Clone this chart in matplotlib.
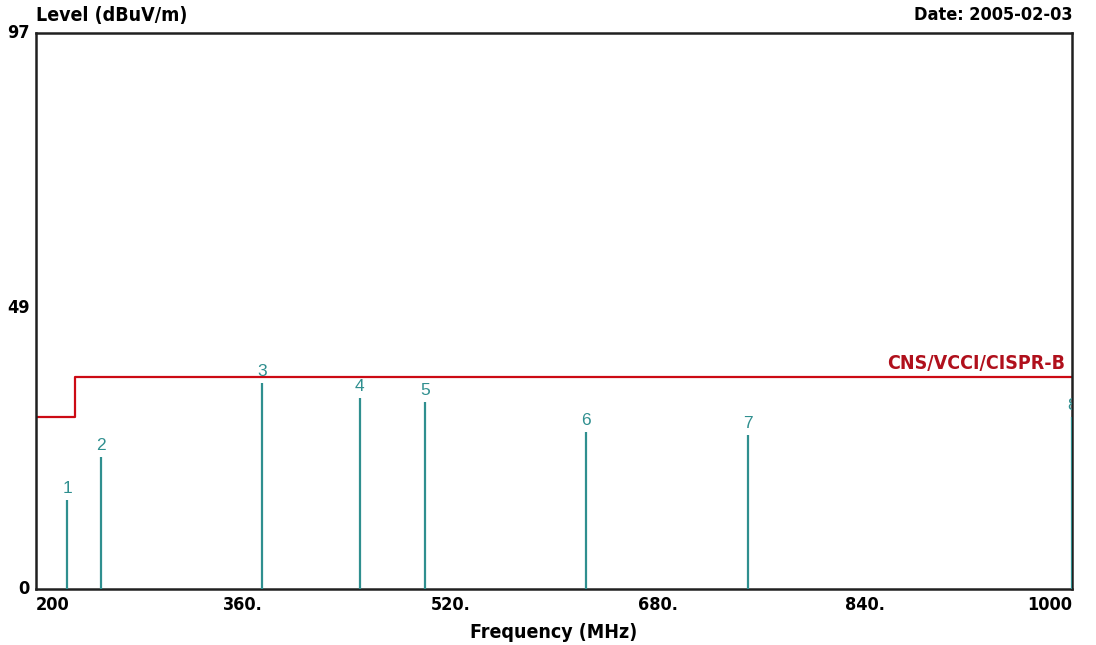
import matplotlib

matplotlib.use("Agg")

import matplotlib.pyplot as plt

# Emission scan peaks (MHz, dBuV/m)
peak_ids = ["1", "2", "3", "4", "5", "6", "7", "8"]
peak_freq = [224.0, 250.0, 374.5, 450.0, 500.5, 624.5, 749.5, 1000.0]
peak_level = [15.5, 23.0, 35.9, 33.3, 32.6, 27.4, 26.9, 30.0]

# Class B limit line
limit_freq = [200.0, 230.0, 230.0, 1000.0]
limit_level = [30.0, 30.0, 37.0, 37.0]
limit_name = "CNS/VCCI/CISPR-B"

x_ticks = [200, 360, 520, 680, 840, 1000]
x_tick_labels = ["200", "360.", "520.", "680.", "840.", "1000"]
y_ticks = [0, 49, 97]

PEAK_COLOR = "#2f8f8f"
LIMIT_COLOR = "#cc0a14"
BOLD = dict(family=["DejaVu Sans"], stretch="condensed", weight="bold", size=13)
TITLE = dict(BOLD, size=14)

fig = plt.figure(figsize=(10.96, 6.45), dpi=100)
ax = fig.add_axes((36 / 1096, 56 / 645, 1036 / 1096, 556 / 645))

ax.plot(limit_freq, limit_level, color=LIMIT_COLOR, linewidth=1.6, zorder=2)
ax.vlines(peak_freq, 0, peak_level, color=PEAK_COLOR, linewidth=1.6, zorder=3)
for label, f, lvl in zip(peak_ids, peak_freq, peak_level):
    ax.annotate(label, (f, lvl), xytext=(0, 3), textcoords="offset points",
                ha="center", va="bottom", color=PEAK_COLOR, clip_on=True,
                fontsize=12.5, family=["Liberation Sans", "DejaVu Sans"])

ax.text(995, 37.6, limit_name, ha="right", va="bottom", color="#b0101c", **TITLE)

ax.set_xlim(200, 1000)
ax.set_ylim(0, 97)
ax.set_xticks([])
ax.set_yticks([])
for spine in ax.spines.values():
    spine.set_linewidth(1.8)
    spine.set_color("#202020")

# tick labels drawn as plain text to keep the instrument-style alignment
for val, lab in zip(x_ticks, x_tick_labels):
    ha = "left" if val == x_ticks[0] else ("right" if val == x_ticks[-1] else "center")
    ax.text(val, -1.3, lab, ha=ha, va="top", **BOLD)
for val in y_ticks:
    ax.text(-0.006, val, str(val), ha="right", va="center", transform=ax.get_yaxis_transform(), **BOLD)

fig.text(36 / 1096, 1 - 15 / 645, "Level (dBuV/m)", ha="left", va="center", **TITLE)
fig.text(1072 / 1096, 1 - 15 / 645, "Date: 2005-02-03", ha="right", va="center", **BOLD)
fig.text(554 / 1096, 1 - 632 / 645, "Frequency (MHz)", ha="center", va="center", **TITLE)

fig.savefig("out.png", dpi=100)
